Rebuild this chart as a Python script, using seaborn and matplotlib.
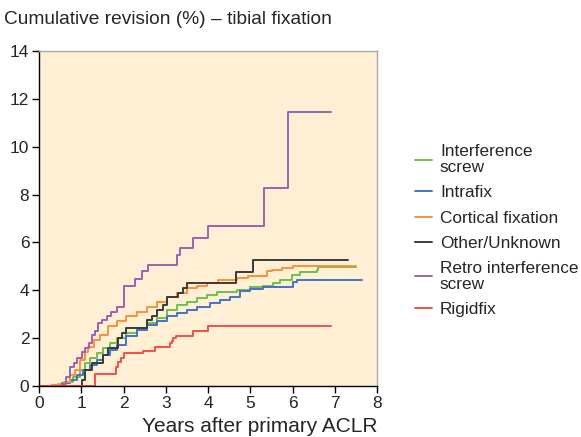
import numpy as np
import pandas as pd
import matplotlib
matplotlib.use('Agg')
import matplotlib.pyplot as plt
import seaborn as sns

sns.set_style('ticks')
plt.rcParams['font.family'] = ['Liberation Sans', 'DejaVu Sans']

# step curves (years, cumulative revision %)
interference_t = [0, 0.3, 0.45, 0.54, 0.66, 0.81, 0.97, 1.09, 1.21, 1.37, 1.52, 1.68, 1.84, 2.07, 2.31, 2.55,
                  2.79, 3.02, 3.26, 3.50, 3.73, 3.97, 4.21, 4.68, 4.99, 5.31, 5.55, 5.70, 5.98, 6.18, 6.57, 6.61, 7.50]
interference_v = [0, 0.03, 0.06, 0.11, 0.18, 0.39, 0.67, 0.95, 1.16, 1.37, 1.58, 1.79, 2.0, 2.21, 2.42, 2.63,
                  2.84, 3.19, 3.39, 3.53, 3.68, 3.81, 3.91, 4.02, 4.14, 4.20, 4.30, 4.44, 4.65, 4.75, 4.86, 4.96, 4.96]

intrafix_t = [0, 0.3, 0.45, 0.54, 0.73, 0.89, 1.05, 1.21, 1.37, 1.52, 1.68, 1.84, 2.07, 2.31, 2.55, 2.79,
              3.02, 3.26, 3.50, 3.73, 4.05, 4.28, 4.52, 4.76, 4.99, 5.31, 6.0, 6.10, 7.65]
intrafix_v = [0, 0.03, 0.06, 0.11, 0.25, 0.46, 0.67, 0.88, 1.09, 1.30, 1.51, 1.72, 2.07, 2.35, 2.56, 2.70,
              2.91, 3.05, 3.19, 3.32, 3.47, 3.60, 3.74, 3.95, 4.05, 4.14, 4.33, 4.44, 4.44]

cortical_t = [0, 0.3, 0.45, 0.58, 0.73, 0.85, 0.97, 1.09, 1.17, 1.29, 1.44, 1.64, 1.84, 2.07, 2.31, 2.55,
              2.79, 3.02, 3.26, 3.50, 3.73, 3.97, 4.24, 4.68, 4.95, 5.39, 5.51, 5.74, 6.0, 7.50]
cortical_v = [0, 0.03, 0.08, 0.18, 0.46, 0.67, 1.09, 1.44, 1.65, 1.93, 2.14, 2.49, 2.70, 2.91, 3.11, 3.32,
              3.53, 3.74, 3.88, 4.09, 4.16, 4.30, 4.44, 4.51, 4.58, 4.79, 4.86, 4.93, 5.03, 5.03]

other_t = [0, 1.01, 1.09, 1.25, 1.52, 1.64, 1.88, 1.96, 2.07, 2.55, 2.67, 2.79, 2.94, 3.02, 3.30, 3.42, 3.50,
           4.66, 5.07, 7.32]
other_v = [0, 0.25, 0.67, 0.95, 1.30, 1.58, 2.0, 2.21, 2.42, 2.77, 2.91, 3.19, 3.39, 3.74, 3.88, 4.09, 4.30,
           4.75, 5.27, 5.27]

retro_t = [0, 0.55, 0.65, 0.73, 0.82, 0.9, 1.01, 1.1, 1.18, 1.25, 1.33, 1.40, 1.5, 1.6, 1.7, 1.84, 2.0,
           2.27, 2.43, 2.59, 3.26, 3.34, 3.65, 4.01, 5.33, 5.90, 6.91]
retro_v = [0, 0.1, 0.39, 0.81, 0.95, 1.15, 1.44, 1.6, 1.8, 2.14, 2.3, 2.63, 2.75, 2.91, 3.1, 3.32, 4.19,
           4.47, 4.79, 5.07, 5.49, 5.77, 6.19, 6.68, 8.28, 11.47, 11.47]

rigidfix_t = [0, 1.33, 1.82, 1.86, 1.94, 2.02, 2.47, 2.75, 3.10, 3.14, 3.18, 3.24, 3.65, 4.01, 6.91]
rigidfix_v = [0, 0.50, 0.81, 1.02, 1.16, 1.37, 1.48, 1.62, 1.79, 1.90, 2.0, 2.10, 2.28, 2.49, 2.49]

labels = ['Interference\nscrew', 'Intrafix', 'Cortical fixation', 'Other/Unknown',
          'Retro interference\nscrew', 'Rigidfix']
colors = ['#6cbf4f', '#4472c4', '#f7913d', '#3a3a3a', '#9b63ad', '#f0504a']

series = [(interference_t, interference_v), (intrafix_t, intrafix_v), (cortical_t, cortical_v),
          (other_t, other_v), (retro_t, retro_v), (rigidfix_t, rigidfix_v)]
frames = []
for lab, (t, v) in zip(labels, series):
    frames.append(pd.DataFrame({'years': t, 'revision': v, 'fixation': lab}))
df = pd.concat(frames, ignore_index=True)

fig = plt.figure(figsize=(5.81, 4.37), dpi=100)
ax = fig.add_axes([39 / 581, 1 - 386 / 437, 338 / 581, 335 / 437])
ax.set_facecolor('#ffefd5')

sns.lineplot(data=df, x='years', y='revision', hue='fixation', hue_order=labels,
             palette=colors, drawstyle='steps-post', estimator=None, sort=False,
             linewidth=1.4, ax=ax)

ax.set_xlim(0, 8)
ax.set_ylim(0, 14)
ax.set_xticks(range(0, 9))
ax.set_yticks(range(0, 15, 2))
ax.tick_params(axis='both', direction='out', length=5, width=1, labelsize=12.5, pad=2, color='black')
for s in ['left', 'bottom']:
    ax.spines[s].set_color('black')
    ax.spines[s].set_linewidth(1)
for s in ['top', 'right']:
    ax.spines[s].set_color('#aaaaaa')
    ax.spines[s].set_linewidth(1)
ax.set_xlabel('')
ax.set_ylabel('')

fig.text(4 / 581, 1 - 20 / 437, 'Cumulative revision (%) \u2013 tibial fixation', fontsize=13.8,
         ha='left', va='center')
fig.text(378 / 581, 1 - 427 / 437, 'Years after primary ACLR', fontsize=15, ha='right', va='center')

handles, labs = ax.get_legend_handles_labels()
leg = ax.legend(handles, labs, loc='upper left', bbox_to_anchor=(415 / 581, 1 - 144 / 437),
                bbox_transform=fig.transFigure, frameon=False, fontsize=12.4, handlelength=1.0,
                handletextpad=0.45, labelspacing=0.58, borderaxespad=0, borderpad=0)
for txt in leg.get_texts():
    txt.set_linespacing(1.12)

fig.savefig('out.png', dpi=100)
